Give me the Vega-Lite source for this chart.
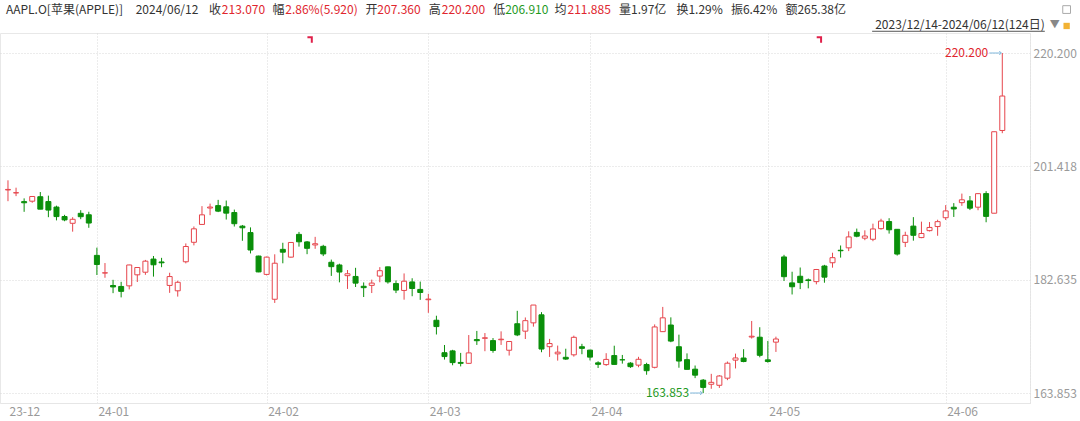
{
  "$schema": "https://vega.github.io/schema/vega-lite/v6.json",
  "width": 1030,
  "height": 370,
  "autosize": {"type": "none"},
  "padding": {"left": 0, "top": 33, "right": 50, "bottom": 18},
  "background": "white",
  "config": {
    "font": "Noto Sans CJK SC",
    "view": {"stroke": "#e8e8e8", "strokeWidth": 1},
    "axis": {"title": null}
  },
  "datasets": {
    "ohlc": [
      {"i":0,"d":"2023-12-14","o":197.50,"h":199.10,"l":195.64,"c":197.59},
      {"i":1,"d":"2023-12-15","o":197.01,"h":197.88,"l":196.48,"c":197.05},
      {"i":2,"d":"2023-12-18","o":195.57,"h":196.11,"l":193.88,"c":195.38},
      {"i":3,"d":"2023-12-19","o":195.64,"h":196.43,"l":195.38,"c":196.42},
      {"i":4,"d":"2023-12-20","o":196.38,"h":197.16,"l":194.32,"c":194.32},
      {"i":5,"d":"2023-12-21","o":195.58,"h":196.56,"l":192.99,"c":194.17},
      {"i":6,"d":"2023-12-22","o":194.67,"h":194.90,"l":192.46,"c":193.09},
      {"i":7,"d":"2023-12-26","o":193.10,"h":193.38,"l":192.32,"c":192.54},
      {"i":8,"d":"2023-12-27","o":191.98,"h":192.99,"l":190.59,"c":192.64},
      {"i":9,"d":"2023-12-28","o":193.63,"h":194.15,"l":192.66,"c":193.07},
      {"i":10,"d":"2023-12-29","o":193.39,"h":193.89,"l":191.23,"c":192.02},
      {"i":11,"d":"2024-01-02","o":186.66,"h":187.94,"l":183.41,"c":185.15},
      {"i":12,"d":"2024-01-03","o":183.74,"h":185.39,"l":182.95,"c":183.77},
      {"i":13,"d":"2024-01-04","o":181.67,"h":182.61,"l":180.40,"c":181.43},
      {"i":14,"d":"2024-01-05","o":181.51,"h":182.28,"l":179.70,"c":180.70},
      {"i":15,"d":"2024-01-08","o":181.61,"h":185.11,"l":181.02,"c":185.07},
      {"i":16,"d":"2024-01-09","o":183.44,"h":184.66,"l":182.25,"c":184.65},
      {"i":17,"d":"2024-01-10","o":183.87,"h":185.91,"l":183.44,"c":185.70},
      {"i":18,"d":"2024-01-11","o":186.05,"h":186.56,"l":183.14,"c":185.10},
      {"i":19,"d":"2024-01-12","o":185.57,"h":186.25,"l":184.70,"c":185.43},
      {"i":20,"d":"2024-01-16","o":181.68,"h":183.78,"l":180.45,"c":183.15},
      {"i":21,"d":"2024-01-17","o":180.79,"h":182.45,"l":179.83,"c":182.20},
      {"i":22,"d":"2024-01-18","o":185.60,"h":188.64,"l":185.34,"c":188.13},
      {"i":23,"d":"2024-01-19","o":188.83,"h":191.45,"l":188.32,"c":191.06},
      {"i":24,"d":"2024-01-22","o":191.79,"h":194.82,"l":191.75,"c":193.38},
      {"i":25,"d":"2024-01-23","o":194.51,"h":195.24,"l":193.32,"c":194.67},
      {"i":26,"d":"2024-01-24","o":194.91,"h":195.86,"l":193.83,"c":193.99},
      {"i":27,"d":"2024-01-25","o":194.71,"h":195.75,"l":192.60,"c":193.66},
      {"i":28,"d":"2024-01-26","o":193.76,"h":194.25,"l":191.44,"c":191.91},
      {"i":29,"d":"2024-01-29","o":191.51,"h":191.70,"l":189.08,"c":191.23},
      {"i":30,"d":"2024-01-30","o":190.44,"h":191.30,"l":186.98,"c":187.55},
      {"i":31,"d":"2024-01-31","o":186.55,"h":186.61,"l":183.87,"c":183.92},
      {"i":32,"d":"2024-02-01","o":183.51,"h":186.46,"l":183.34,"c":186.37},
      {"i":33,"d":"2024-02-02","o":179.39,"h":186.84,"l":178.78,"c":185.36},
      {"i":34,"d":"2024-02-05","o":187.66,"h":188.75,"l":185.35,"c":187.19},
      {"i":35,"d":"2024-02-06","o":186.37,"h":188.81,"l":186.28,"c":188.80},
      {"i":36,"d":"2024-02-07","o":190.14,"h":190.55,"l":188.11,"c":188.91},
      {"i":37,"d":"2024-02-08","o":188.89,"h":189.04,"l":186.86,"c":187.83},
      {"i":38,"d":"2024-02-09","o":188.39,"h":189.73,"l":187.75,"c":188.59},
      {"i":39,"d":"2024-02-12","o":188.16,"h":188.41,"l":186.54,"c":186.90},
      {"i":40,"d":"2024-02-13","o":185.52,"h":185.96,"l":183.26,"c":184.79},
      {"i":41,"d":"2024-02-14","o":185.07,"h":185.28,"l":182.19,"c":183.90},
      {"i":42,"d":"2024-02-15","o":183.30,"h":184.24,"l":181.10,"c":183.61},
      {"i":43,"d":"2024-02-16","o":183.17,"h":184.60,"l":181.42,"c":182.06},
      {"i":44,"d":"2024-02-20","o":181.54,"h":182.18,"l":179.76,"c":181.31},
      {"i":45,"d":"2024-02-21","o":181.69,"h":182.64,"l":180.42,"c":182.07},
      {"i":46,"d":"2024-02-22","o":183.23,"h":184.71,"l":182.21,"c":184.12},
      {"i":47,"d":"2024-02-23","o":184.76,"h":184.79,"l":181.98,"c":182.27},
      {"i":48,"d":"2024-02-26","o":181.99,"h":182.51,"l":180.41,"c":180.91},
      {"i":49,"d":"2024-02-27","o":180.85,"h":183.67,"l":179.32,"c":182.38},
      {"i":50,"d":"2024-02-28","o":182.26,"h":182.87,"l":179.89,"c":181.17},
      {"i":51,"d":"2024-02-29","o":181.02,"h":182.32,"l":179.29,"c":180.51},
      {"i":52,"d":"2024-03-01","o":179.31,"h":180.29,"l":177.14,"c":179.42},
      {"i":53,"d":"2024-03-04","o":175.91,"h":176.66,"l":173.55,"c":174.86},
      {"i":54,"d":"2024-03-05","o":170.53,"h":171.81,"l":169.39,"c":169.89},
      {"i":55,"d":"2024-03-06","o":170.83,"h":171.01,"l":168.45,"c":168.89},
      {"i":56,"d":"2024-03-07","o":168.92,"h":170.50,"l":168.26,"c":168.77},
      {"i":57,"d":"2024-03-08","o":168.77,"h":173.46,"l":168.71,"c":170.50},
      {"i":58,"d":"2024-03-11","o":172.71,"h":174.14,"l":171.82,"c":172.52},
      {"i":59,"d":"2024-03-12","o":172.92,"h":173.79,"l":170.78,"c":173.00},
      {"i":60,"d":"2024-03-13","o":172.54,"h":172.96,"l":170.53,"c":170.90},
      {"i":61,"d":"2024-03-14","o":172.68,"h":174.07,"l":171.82,"c":172.77},
      {"i":62,"d":"2024-03-15","o":170.94,"h":172.39,"l":170.06,"c":172.39},
      {"i":63,"d":"2024-03-18","o":175.33,"h":177.47,"l":173.28,"c":173.48},
      {"i":64,"d":"2024-03-19","o":174.10,"h":176.37,"l":172.80,"c":175.84},
      {"i":65,"d":"2024-03-20","o":175.48,"h":178.43,"l":174.85,"c":178.43},
      {"i":66,"d":"2024-03-21","o":176.81,"h":177.25,"l":170.61,"c":171.14},
      {"i":67,"d":"2024-03-22","o":171.53,"h":172.82,"l":169.83,"c":172.05},
      {"i":68,"d":"2024-03-25","o":170.34,"h":171.71,"l":169.22,"c":170.62},
      {"i":69,"d":"2024-03-26","o":169.77,"h":171.19,"l":169.35,"c":169.48},
      {"i":70,"d":"2024-03-27","o":170.18,"h":173.36,"l":169.88,"c":173.08},
      {"i":71,"d":"2024-03-28","o":171.52,"h":172.00,"l":170.28,"c":171.25},
      {"i":72,"d":"2024-04-01","o":170.96,"h":171.02,"l":169.25,"c":169.80},
      {"i":73,"d":"2024-04-02","o":168.85,"h":169.11,"l":168.00,"c":168.61},
      {"i":74,"d":"2024-04-03","o":168.56,"h":170.45,"l":168.35,"c":169.42},
      {"i":75,"d":"2024-04-04","o":170.06,"h":171.69,"l":168.59,"c":168.59},
      {"i":76,"d":"2024-04-05","o":169.36,"h":170.16,"l":168.72,"c":169.35},
      {"i":77,"d":"2024-04-08","o":168.80,"h":168.97,"l":168.01,"c":168.22},
      {"i":78,"d":"2024-04-09","o":168.47,"h":169.85,"l":168.12,"c":169.44},
      {"i":79,"d":"2024-04-10","o":168.57,"h":168.86,"l":166.88,"c":167.55},
      {"i":80,"d":"2024-04-11","o":168.11,"h":175.22,"l":167.93,"c":174.80},
      {"i":81,"d":"2024-04-12","o":174.02,"h":178.12,"l":173.97,"c":176.31},
      {"i":82,"d":"2024-04-15","o":175.12,"h":176.39,"l":172.27,"c":172.46},
      {"i":83,"d":"2024-04-16","o":171.52,"h":173.52,"l":168.04,"c":169.15},
      {"i":84,"d":"2024-04-17","o":169.38,"h":170.42,"l":167.77,"c":167.77},
      {"i":85,"d":"2024-04-18","o":167.80,"h":168.41,"l":166.32,"c":166.81},
      {"i":86,"d":"2024-04-19","o":165.98,"h":166.17,"l":163.853,"c":164.78},
      {"i":87,"d":"2024-04-22","o":165.30,"h":167.03,"l":164.55,"c":165.62},
      {"i":88,"d":"2024-04-23","o":165.13,"h":166.82,"l":164.70,"c":166.67},
      {"i":89,"d":"2024-04-24","o":166.31,"h":169.07,"l":165.98,"c":168.79},
      {"i":90,"d":"2024-04-25","o":169.30,"h":170.38,"l":167.92,"c":169.66},
      {"i":91,"d":"2024-04-26","o":169.65,"h":171.11,"l":168.95,"c":169.07},
      {"i":92,"d":"2024-04-29","o":173.13,"h":175.79,"l":172.87,"c":173.26},
      {"i":93,"d":"2024-04-30","o":173.10,"h":174.75,"l":169.77,"c":170.10},
      {"i":94,"d":"2024-05-01","o":169.35,"h":172.48,"l":168.88,"c":169.07},
      {"i":95,"d":"2024-05-02","o":172.28,"h":173.19,"l":170.66,"c":172.80},
      {"i":96,"d":"2024-05-03","o":186.40,"h":186.75,"l":182.41,"c":183.13},
      {"i":97,"d":"2024-05-06","o":182.10,"h":183.95,"l":180.18,"c":181.46},
      {"i":98,"d":"2024-05-07","o":183.20,"h":184.65,"l":181.07,"c":182.15},
      {"i":99,"d":"2024-05-08","o":182.60,"h":182.82,"l":181.20,"c":182.49},
      {"i":100,"d":"2024-05-09","o":182.31,"h":184.41,"l":181.86,"c":184.32},
      {"i":101,"d":"2024-05-10","o":184.90,"h":185.09,"l":182.13,"c":183.05},
      {"i":102,"d":"2024-05-13","o":185.44,"h":187.10,"l":184.62,"c":186.28},
      {"i":103,"d":"2024-05-14","o":187.51,"h":188.30,"l":186.29,"c":187.43},
      {"i":104,"d":"2024-05-15","o":187.91,"h":190.65,"l":187.37,"c":189.72},
      {"i":105,"d":"2024-05-16","o":190.47,"h":191.10,"l":189.66,"c":189.84},
      {"i":106,"d":"2024-05-17","o":189.51,"h":190.81,"l":189.18,"c":189.87},
      {"i":107,"d":"2024-05-20","o":189.33,"h":191.92,"l":189.01,"c":191.04},
      {"i":108,"d":"2024-05-21","o":191.09,"h":192.73,"l":190.92,"c":192.35},
      {"i":109,"d":"2024-05-22","o":192.27,"h":192.82,"l":190.27,"c":190.90},
      {"i":110,"d":"2024-05-23","o":190.98,"h":191.00,"l":186.63,"c":186.88},
      {"i":111,"d":"2024-05-24","o":188.82,"h":190.58,"l":188.04,"c":189.98},
      {"i":112,"d":"2024-05-28","o":191.51,"h":193.00,"l":189.10,"c":189.99},
      {"i":113,"d":"2024-05-29","o":189.61,"h":192.25,"l":189.51,"c":190.29},
      {"i":114,"d":"2024-05-30","o":190.76,"h":192.18,"l":190.63,"c":191.29},
      {"i":115,"d":"2024-05-31","o":191.44,"h":192.57,"l":189.91,"c":192.25},
      {"i":116,"d":"2024-06-03","o":192.90,"h":194.99,"l":192.52,"c":194.03},
      {"i":117,"d":"2024-06-04","o":194.64,"h":195.32,"l":193.03,"c":194.35},
      {"i":118,"d":"2024-06-05","o":195.40,"h":196.90,"l":194.87,"c":195.87},
      {"i":119,"d":"2024-06-06","o":195.69,"h":196.50,"l":194.17,"c":194.48},
      {"i":120,"d":"2024-06-07","o":194.65,"h":196.94,"l":194.14,"c":196.89},
      {"i":121,"d":"2024-06-10","o":196.90,"h":197.30,"l":192.15,"c":193.12},
      {"i":122,"d":"2024-06-11","o":193.65,"h":207.16,"l":193.63,"c":207.15},
      {"i":123,"d":"2024-06-12","o":207.36,"h":220.20,"l":206.91,"c":213.07}
    ],
    "ext": [
      {"i":123,"p":220.2,"label":"220.200","kind":"high"},
      {"i":86,"p":163.853,"label":"163.853","kind":"low"}
    ],
    "exdiv": [
      {"i":38,"d":"2024-02-09"},
      {"i":101,"d":"2024-05-10"}
    ]
  },
  "layer": [
    {
      "data": {"name": "ohlc"},
      "mark": {"type": "rule", "strokeWidth": 1},
      "encoding": {
        "x": {
          "field": "i", "type": "quantitative",
          "scale": {"domain": [-0.3675, 125.81], "nice": false, "zero": false},
          "axis": {
            "values": [0, 11, 32, 52, 72, 94, 116],
            "labelExpr": "datum.value == 0 ? '23-12' : datum.value == 11 ? '24-01' : datum.value == 32 ? '24-02' : datum.value == 52 ? '24-03' : datum.value == 72 ? '24-04' : datum.value == 94 ? '24-05' : '24-06'",
            "labelAlign": "left", "labelBaseline": "top", "labelPadding": 3, "labelOffset": 1,
            "labelFontSize": 12, "labelColor": "#9a9a9a", "labelFlush": false, "labelOverlap": false, "labelBound": false,
            "ticks": false, "domain": true, "domainColor": "#e6e6e6",
            "grid": true, "gridColor": "#d9d9d9", "gridDash": [1, 2],
            "gridOpacity": {"condition": {"test": "datum.value == 0", "value": 0}, "value": 1},
            "title": null
          }
        },
        "y": {
          "field": "l", "type": "quantitative",
          "scale": {"domain": [162.196, 223.515], "nice": false, "zero": false},
          "axis": {
            "orient": "right", "values": [163.853, 182.635, 201.418, 220.2], "format": ".3f",
            "labelFontSize": 12, "labelColor": "#9a9a9a", "labelPadding": 3,
            "ticks": false, "domain": true, "domainColor": "#e0e0e0", "domainDash": [1, 2],
            "grid": true, "gridColor": "#d9d9d9", "gridDash": [1, 2], "title": null
          }
        },
        "y2": {"field": "h"},
        "color": {"condition": {"test": "datum.c >= datum.o", "value": "#e6454c"}, "value": "#0a8f0a"}
      }
    },
    {
      "data": {"name": "ohlc"},
      "mark": {"type": "bar", "width": 5, "strokeWidth": 1},
      "encoding": {
        "x": {"field": "i", "type": "quantitative"},
        "y": {"field": "o", "type": "quantitative"},
        "y2": {"field": "c"},
        "fill": {"condition": {"test": "datum.c >= datum.o", "value": "#ffffff"}, "value": "#0a8f0a"},
        "stroke": {"condition": {"test": "datum.c >= datum.o", "value": "#e6454c"}, "value": "#0a8f0a"}
      }
    },
    {
      "data": {"name": "ext"},
      "mark": {"type": "rule", "xOffset": -13, "x2Offset": -1, "color": "#80b8dc", "strokeWidth": 1},
      "encoding": {
        "x": {"field": "i", "type": "quantitative"},
        "x2": {"field": "i"},
        "y": {"field": "p", "type": "quantitative"}
      }
    },
    {
      "data": {"name": "ext"},
      "mark": {"type": "point", "shape": "M-1,-1L0,0L-1,1", "filled": false, "size": 16, "strokeWidth": 1, "color": "#80b8dc", "xOffset": -1, "opacity": 1},
      "encoding": {
        "x": {"field": "i", "type": "quantitative"},
        "y": {"field": "p", "type": "quantitative"}
      }
    },
    {
      "data": {"name": "ext"},
      "mark": {"type": "text", "align": "right", "baseline": "middle", "dx": -14, "fontSize": 12},
      "encoding": {
        "x": {"field": "i", "type": "quantitative"},
        "y": {"field": "p", "type": "quantitative"},
        "text": {"field": "label"},
        "color": {"field": "kind", "type": "nominal", "scale": {"domain": ["high", "low"], "range": ["#e0262e", "#1f9a1f"]}, "legend": null}
      }
    },
    {
      "data": {"name": "exdiv"},
      "mark": {"type": "point", "shape": "M-1,-1L0.6,-1L0.6,1", "filled": false, "size": 30, "strokeWidth": 2, "color": "#e0204a", "xOffset": -5, "opacity": 1},
      "encoding": {
        "x": {"field": "i", "type": "quantitative"},
        "y": {"datum": 222.36}
      }
    },
    {"data": {"values": [{}]}, "mark": {"type": "text", "align": "left", "baseline": "middle", "fontSize": 12, "color": "#333333"}, "encoding": {"x": {"datum": -0.245}, "y": {"datum": 227.33}, "text": {"value": "AAPL.O[苹果(APPLE)]"}}},
    {"data": {"values": [{}]}, "mark": {"type": "text", "align": "left", "baseline": "middle", "fontSize": 12, "color": "#333333"}, "encoding": {"x": {"datum": 15.80}, "y": {"datum": 227.33}, "text": {"value": "2024/06/12"}}},
    {"data": {"values": [{}]}, "mark": {"type": "text", "align": "left", "baseline": "middle", "fontSize": 12, "color": "#333333"}, "encoding": {"x": {"datum": 24.87}, "y": {"datum": 227.33}, "text": {"value": "收"}}},
    {"data": {"values": [{}]}, "mark": {"type": "text", "align": "left", "baseline": "middle", "fontSize": 12, "color": "#e0262e"}, "encoding": {"x": {"datum": 26.46}, "y": {"datum": 227.33}, "text": {"value": "213.070"}}},
    {"data": {"values": [{}]}, "mark": {"type": "text", "align": "left", "baseline": "middle", "fontSize": 12, "color": "#333333"}, "encoding": {"x": {"datum": 32.71}, "y": {"datum": 227.33}, "text": {"value": "幅"}}},
    {"data": {"values": [{}]}, "mark": {"type": "text", "align": "left", "baseline": "middle", "fontSize": 12, "color": "#e0262e"}, "encoding": {"x": {"datum": 34.30}, "y": {"datum": 227.33}, "text": {"value": "2.86%(5.920)"}}},
    {"data": {"values": [{}]}, "mark": {"type": "text", "align": "left", "baseline": "middle", "fontSize": 12, "color": "#333333"}, "encoding": {"x": {"datum": 44.22}, "y": {"datum": 227.33}, "text": {"value": "开"}}},
    {"data": {"values": [{}]}, "mark": {"type": "text", "align": "left", "baseline": "middle", "fontSize": 12, "color": "#e0262e"}, "encoding": {"x": {"datum": 45.69}, "y": {"datum": 227.33}, "text": {"value": "207.360"}}},
    {"data": {"values": [{}]}, "mark": {"type": "text", "align": "left", "baseline": "middle", "fontSize": 12, "color": "#333333"}, "encoding": {"x": {"datum": 52.06}, "y": {"datum": 227.33}, "text": {"value": "高"}}},
    {"data": {"values": [{}]}, "mark": {"type": "text", "align": "left", "baseline": "middle", "fontSize": 12, "color": "#e0262e"}, "encoding": {"x": {"datum": 53.66}, "y": {"datum": 227.33}, "text": {"value": "220.200"}}},
    {"data": {"values": [{}]}, "mark": {"type": "text", "align": "left", "baseline": "middle", "fontSize": 12, "color": "#333333"}, "encoding": {"x": {"datum": 60.03}, "y": {"datum": 227.33}, "text": {"value": "低"}}},
    {"data": {"values": [{}]}, "mark": {"type": "text", "align": "left", "baseline": "middle", "fontSize": 12, "color": "#1f9a1f"}, "encoding": {"x": {"datum": 61.50}, "y": {"datum": 227.33}, "text": {"value": "206.910"}}},
    {"data": {"values": [{}]}, "mark": {"type": "text", "align": "left", "baseline": "middle", "fontSize": 12, "color": "#333333"}, "encoding": {"x": {"datum": 67.62}, "y": {"datum": 227.33}, "text": {"value": "均"}}},
    {"data": {"values": [{}]}, "mark": {"type": "text", "align": "left", "baseline": "middle", "fontSize": 12, "color": "#e0262e"}, "encoding": {"x": {"datum": 69.22}, "y": {"datum": 227.33}, "text": {"value": "211.885"}}},
    {"data": {"values": [{}]}, "mark": {"type": "text", "align": "left", "baseline": "middle", "fontSize": 12, "color": "#333333"}, "encoding": {"x": {"datum": 75.59}, "y": {"datum": 227.33}, "text": {"value": "量1.97亿"}}},
    {"data": {"values": [{}]}, "mark": {"type": "text", "align": "left", "baseline": "middle", "fontSize": 12, "color": "#333333"}, "encoding": {"x": {"datum": 82.69}, "y": {"datum": 227.33}, "text": {"value": "换1.29%"}}},
    {"data": {"values": [{}]}, "mark": {"type": "text", "align": "left", "baseline": "middle", "fontSize": 12, "color": "#333333"}, "encoding": {"x": {"datum": 89.43}, "y": {"datum": 227.33}, "text": {"value": "振6.42%"}}},
    {"data": {"values": [{}]}, "mark": {"type": "text", "align": "left", "baseline": "middle", "fontSize": 12, "color": "#333333"}, "encoding": {"x": {"datum": 96.17}, "y": {"datum": 227.33}, "text": {"value": "额265.38亿"}}},
    {"data": {"values": [{}]}, "mark": {"type": "text", "align": "right", "baseline": "middle", "fontSize": 12, "color": "#333333"}, "encoding": {"x": {"datum": 128.26}, "y": {"datum": 224.84}, "text": {"value": "2023/12/14-2024/06/12(124日)"}}},
    {"data": {"values": [{}]}, "mark": {"type": "rule", "color": "#555555", "strokeWidth": 1}, "encoding": {"x": {"datum": 106.9}, "x2": {"datum": 128.26}, "y": {"datum": 223.8}}},
    {"data": {"values": [{}]}, "mark": {"type": "text", "align": "center", "baseline": "middle", "fontSize": 10, "color": "#888888"}, "encoding": {"x": {"datum": 129.49}, "y": {"datum": 224.84}, "text": {"value": "▼"}}},
    {"data": {"values": [{}]}, "mark": {"type": "point", "shape": "square", "filled": true, "size": 40, "color": "#f2b234", "opacity": 1}, "encoding": {"x": {"datum": 130.96}, "y": {"datum": 224.68}}},
    {"data": {"values": [{}]}, "mark": {"type": "point", "shape": "square", "filled": false, "size": 60, "strokeWidth": 1, "color": "#aaaaaa", "opacity": 1}, "encoding": {"x": {"datum": 130.96}, "y": {"datum": 227.4}}}
  ]
}
